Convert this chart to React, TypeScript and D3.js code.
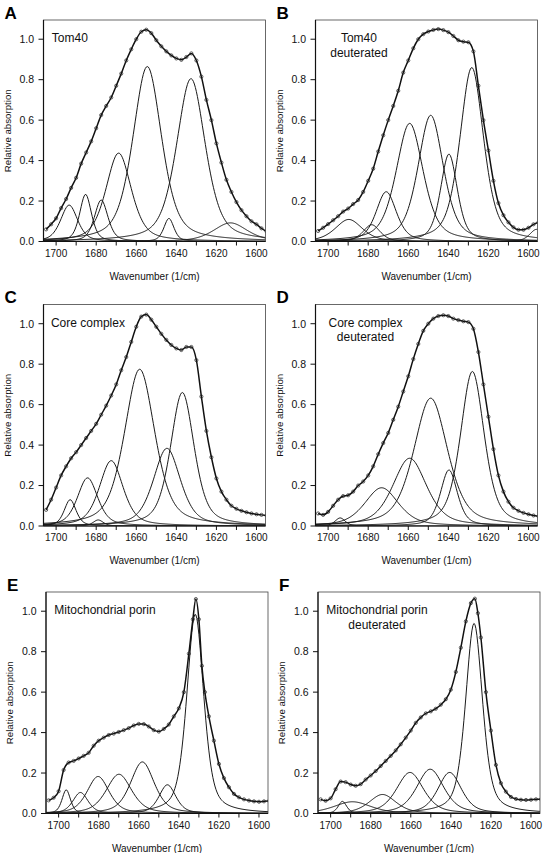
import React from 'react';
import * as d3 from 'd3';

// ---------- axes ----------
const X_DOMAIN: [number, number] = [1706.3, 1595.5];
const Y_MAX = 1.095;
const xMinorTicks = [1700, 1690, 1680, 1670, 1660, 1650, 1640, 1630, 1620, 1610, 1600];
const xTickLabels = [1700, 1680, 1660, 1640, 1620, 1600];
const yTickLabels = [0, 0.2, 0.4, 0.6, 0.8, 1.0];
const MIX = 0.5; // Lorentzian fraction of the fitted band shape

// ---------- measured spectra: [wavenumber, relative absorption] ----------
const tomSpectrum = [[1705,0.060],[1702.5,0.085],[1700,0.115],[1697.5,0.165],[1695,0.210],[1692.5,0.265],[1690,0.315],[1687.5,0.385],[1685,0.440],[1682.5,0.495],[1680,0.560],[1677.5,0.625],[1675,0.670],[1672.5,0.712],[1670,0.770],[1667.5,0.830],[1665,0.895],[1662.5,0.950],[1660,1.000],[1657.5,1.037],[1655,1.047],[1652.5,1.030],[1650,0.995],[1647.5,0.965],[1645,0.940],[1642.5,0.920],[1640,0.905],[1637.5,0.898],[1635,0.912],[1632.5,0.930],[1630,0.895],[1627.5,0.815],[1625,0.700],[1622.5,0.600],[1620,0.485],[1617.5,0.390],[1615,0.305],[1612.5,0.245],[1610,0.195],[1607.5,0.155],[1605,0.125],[1602.5,0.100],[1600,0.085],[1597.5,0.065],[1595,0.050]];
const tomDSpectrum = [[1705,0.052],[1702.5,0.068],[1700,0.086],[1697.5,0.105],[1695,0.125],[1692.5,0.148],[1690,0.163],[1687.5,0.185],[1685,0.205],[1682.5,0.245],[1680,0.300],[1677.5,0.360],[1675,0.445],[1672.5,0.525],[1670,0.600],[1667.5,0.670],[1665,0.745],[1662.5,0.835],[1660,0.895],[1657.5,0.955],[1655,1.000],[1652.5,1.025],[1650,1.038],[1647.5,1.046],[1645,1.050],[1642.5,1.045],[1640,1.035],[1637.5,1.016],[1635,0.995],[1632.5,0.988],[1630,0.985],[1627.5,0.940],[1625,0.770],[1622.5,0.600],[1620,0.450],[1617.5,0.300],[1615,0.190],[1612.5,0.130],[1610,0.095],[1607.5,0.070],[1605,0.058],[1602.5,0.058],[1600,0.068],[1597.5,0.085],[1595,0.095]];
const coreSpectrum = [[1705,0.080],[1702.5,0.130],[1700,0.190],[1697.5,0.250],[1695,0.295],[1692.5,0.335],[1690,0.365],[1687.5,0.400],[1685,0.435],[1682.5,0.470],[1680,0.505],[1677.5,0.550],[1675,0.595],[1672.5,0.645],[1670,0.700],[1667.5,0.770],[1665,0.835],[1662.5,0.910],[1660,0.985],[1657.5,1.035],[1655,1.045],[1652.5,1.020],[1650,0.985],[1647.5,0.950],[1645,0.920],[1642.5,0.895],[1640,0.878],[1637.5,0.870],[1635,0.885],[1632.5,0.885],[1630,0.820],[1627.5,0.640],[1625,0.470],[1622.5,0.340],[1620,0.235],[1617.5,0.170],[1615,0.130],[1612.5,0.100],[1610,0.085],[1607.5,0.075],[1605,0.068],[1602.5,0.062],[1600,0.058],[1597.5,0.055],[1595,0.052]];
const coreDSpectrum = [[1705,0.062],[1702.5,0.055],[1700,0.070],[1697.5,0.100],[1695,0.130],[1692.5,0.148],[1690,0.152],[1687.5,0.170],[1685,0.200],[1682.5,0.220],[1680,0.250],[1677.5,0.295],[1675,0.355],[1672.5,0.410],[1670,0.460],[1667.5,0.525],[1665,0.590],[1662.5,0.665],[1660,0.740],[1657.5,0.825],[1655,0.900],[1652.5,0.965],[1650,1.000],[1647.5,1.025],[1645,1.038],[1642.5,1.042],[1640,1.038],[1637.5,1.025],[1635,1.018],[1632.5,1.012],[1630,1.008],[1627.5,0.975],[1625,0.860],[1622.5,0.700],[1620,0.540],[1617.5,0.380],[1615,0.250],[1612.5,0.170],[1610,0.120],[1607.5,0.090],[1605,0.075],[1602.5,0.065],[1600,0.058],[1597.5,0.052],[1595,0.048]];
const porSpectrum = [[1705,0.065],[1702.5,0.078],[1700,0.110],[1697.5,0.215],[1695,0.252],[1692.5,0.260],[1690,0.272],[1687.5,0.285],[1685,0.300],[1682.5,0.335],[1680,0.360],[1677.5,0.375],[1675,0.388],[1672.5,0.395],[1670,0.403],[1667.5,0.412],[1665,0.422],[1662.5,0.435],[1660,0.443],[1657.5,0.442],[1655,0.430],[1652.5,0.412],[1650,0.405],[1647.5,0.418],[1645,0.440],[1642.5,0.480],[1640,0.520],[1637.5,0.600],[1635,0.790],[1633,0.960],[1631.5,1.060],[1630,0.960],[1628.5,0.730],[1627,0.600],[1625,0.480],[1622.5,0.360],[1620,0.245],[1617.5,0.175],[1615,0.130],[1612.5,0.097],[1610,0.080],[1607.5,0.070],[1605,0.064],[1602.5,0.060],[1600,0.058],[1597.5,0.060],[1595,0.062]];
const porDSpectrum = [[1705,0.070],[1702.5,0.063],[1700,0.075],[1697.5,0.120],[1695,0.158],[1692.5,0.155],[1690,0.143],[1687.5,0.137],[1685,0.145],[1682.5,0.168],[1680,0.188],[1677.5,0.210],[1675,0.235],[1672.5,0.260],[1670,0.285],[1667.5,0.312],[1665,0.342],[1662.5,0.375],[1660,0.410],[1657.5,0.448],[1655,0.475],[1652.5,0.495],[1650,0.505],[1647.5,0.518],[1645,0.538],[1642.5,0.565],[1640,0.612],[1637.5,0.700],[1635,0.820],[1632.5,0.950],[1630,1.040],[1628,1.062],[1626.5,0.990],[1625,0.870],[1622.5,0.600],[1620,0.410],[1617.5,0.240],[1615,0.150],[1612.5,0.108],[1610,0.082],[1607.5,0.072],[1605,0.068],[1602.5,0.067],[1600,0.068],[1597.5,0.070],[1595,0.070]];

// ---------- fitted bands: center, height, FWHM ----------
const tomCenters = [1693.5, 1685.3, 1677.5, 1668.8, 1654.5, 1643.7, 1632.7, 1613];
const tomHeights = [0.18, 0.233, 0.205, 0.437, 0.865, 0.114, 0.805, 0.092];
const tomWidths = [10, 7, 8, 15, 17, 6, 17, 20];

const tomDCenters = [1689.7, 1678.3, 1671, 1659.3, 1648.8, 1639.7, 1628.3, 1596];
const tomDHeights = [0.109, 0.083, 0.246, 0.584, 0.624, 0.432, 0.86, 0.06];
const tomDWidths = [16, 10, 12, 16, 15, 10, 14, 8];

const coreCenters = [1693, 1684.3, 1679, 1672.5, 1658.3, 1644.7, 1637];
const coreHeights = [0.13, 0.238, 0.03, 0.323, 0.775, 0.384, 0.66];
const coreWidths = [7, 12, 6, 14, 18, 16, 14];

const coreDCenters = [1694, 1673.3, 1659.3, 1648.8, 1639.7, 1628];
const coreDHeights = [0.04, 0.189, 0.335, 0.632, 0.277, 0.764];
const coreDWidths = [6, 20, 20, 20, 10, 14];

const porCenters = [1696.2, 1689.1, 1680.3, 1669.9, 1658.2, 1645.7, 1631.8];
const porHeights = [0.117, 0.104, 0.183, 0.194, 0.255, 0.142, 0.985];
const porWidths = [5, 9, 13, 15, 14, 10, 10];

const porDCenters = [1694.1, 1689.1, 1674.1, 1660.4, 1650.3, 1640.6, 1628.4];
const porDHeights = [0.06, 0.058, 0.094, 0.203, 0.219, 0.203, 0.94];
const porDWidths = [5, 22, 16, 16, 16, 14, 10];

const FONT = "'Liberation Sans', Arial, Helvetica, sans-serif";

type PanelDef = {
  letter: string; title: string[]; titleDx: number; centered: boolean; col: number; row: number;
  centers: number[]; heights: number[]; widths: number[]; spectrum: number[][];
};

const panels: PanelDef[] = [
  { letter: 'A', title: ['Tom40'], titleDx: 8.3, centered: false, col: 0, row: 0, centers: tomCenters, heights: tomHeights, widths: tomWidths, spectrum: tomSpectrum },
  { letter: 'B', title: ['Tom40', 'deuterated'], titleDx: 43.4, centered: true, col: 1, row: 0, centers: tomDCenters, heights: tomDHeights, widths: tomDWidths, spectrum: tomDSpectrum },
  { letter: 'C', title: ['Core complex'], titleDx: 7.4, centered: false, col: 0, row: 1, centers: coreCenters, heights: coreHeights, widths: coreWidths, spectrum: coreSpectrum },
  { letter: 'D', title: ['Core complex', 'deuterated'], titleDx: 50, centered: true, col: 1, row: 1, centers: coreDCenters, heights: coreDHeights, widths: coreDWidths, spectrum: coreDSpectrum },
  { letter: 'E', title: ['Mitochondrial porin'], titleDx: 8.3, centered: false, col: 0, row: 2, centers: porCenters, heights: porHeights, widths: porWidths, spectrum: porSpectrum },
  { letter: 'F', title: ['Mitochondrial porin', 'deuterated'], titleDx: 59, centered: true, col: 1, row: 2, centers: porDCenters, heights: porDHeights, widths: porDWidths, spectrum: porDSpectrum },
];

const COL_LEFT = [43.5, 315.5];
const ROW_TOP = [20, 304.5, 592];
const ROW_SHIFT = [0, 0, 2.5];
const PW = 222;
const PH = 221.5;

function band(x: number, c: number, h: number, w: number) {
  const t = (x - c) / (w / 2);
  return h * (MIX / (1 + t * t) + (1 - MIX) * Math.exp(-Math.LN2 * t * t));
}

const fineX = d3.range(1706.5, 1595, -0.5);

function Panel({ p }: { p: PanelDef }) {
  const left = COL_LEFT[p.col] + ROW_SHIFT[p.row];
  const top = ROW_TOP[p.row];
  const right = left + PW;
  const bottom = top + PH;
  const x = d3.scaleLinear().domain(X_DOMAIN).range([left, right]);
  const y = d3.scaleLinear().domain([0, Y_MAX]).range([bottom, top]);
  const line = d3.line<number[]>().x(d => x(d[0])).y(d => y(d[1]));
  const smooth = d3.line<number[]>().x(d => x(d[0])).y(d => y(d[1])).curve(d3.curveMonotoneX);
  const comps = p.centers.map((c, i) => fineX.map(v => [v, band(v, c, p.heights[i], p.widths[i])]));
  const clipId = `clip-${p.letter}`;
  const cx = (left + right) / 2;
  const titleX = left + p.titleDx;
  return (
    <g>
      <defs>
        <clipPath id={clipId}>
          <rect x={left} y={top} width={PW} height={PH} />
        </clipPath>
      </defs>
      <g clipPath={`url(#${clipId})`}>
        {comps.map((c, i) => (
          <path key={i} d={line(c) || ''} fill="none" stroke="#1a1a1a" strokeWidth={1} />
        ))}
        <path d={smooth(p.spectrum) || ''} fill="none" stroke="#111" strokeWidth={1.5} />
        {p.spectrum.map((d, i) => (
          <circle key={i} cx={x(d[0])} cy={y(d[1])} r={1.6} fill="none" stroke="#222" strokeWidth={0.7} />
        ))}
      </g>
      <rect x={left} y={top} width={PW} height={PH} fill="none" stroke="#444" strokeWidth={0.8} />
      <line x1={left} x2={left} y1={top} y2={bottom} stroke="#111" strokeWidth={1.2} />
      <line x1={left} x2={right} y1={bottom} y2={bottom} stroke="#111" strokeWidth={1.2} />
      {yTickLabels.map(t => (
        <g key={t}>
          <line x1={left - 5} x2={left} y1={y(t)} y2={y(t)} stroke="#111" strokeWidth={1} />
          <text x={left - 9.5} y={y(t) + 3.8} textAnchor="end" fontSize={10.5} fontFamily={FONT} fill="#111">
            {t.toFixed(1)}
          </text>
        </g>
      ))}
      {xMinorTicks.map(t => (
        <line key={t} x1={x(t)} x2={x(t)} y1={bottom} y2={bottom + 4} stroke="#111" strokeWidth={1} />
      ))}
      {xTickLabels.map(t => (
        <text key={t} x={x(t)} y={bottom + 15} textAnchor="middle" fontSize={10} fontFamily={FONT} fill="#111">
          {t}
        </text>
      ))}
      <text x={cx} y={bottom + 38} textAnchor="middle" fontSize={10} fontFamily={FONT} fill="#111">
        {'Wavenumber  (1/cm)'}
      </text>
      <text transform={`translate(${left - 33}, ${(top + bottom) / 2}) rotate(-90)`} textAnchor="middle" fontSize={9.7} fontFamily={FONT} fill="#111">
        Relative absorption
      </text>
      {p.title.map((s, i) => (
        <text key={i} x={titleX} y={top + 22 + i * 14.5} textAnchor={p.centered ? 'middle' : 'start'} fontSize={12} fontFamily={FONT} fill="#111">
          {s}
        </text>
      ))}
      <text x={left - 39} y={top - 1.5} fontSize={17} fontWeight="bold" fontFamily={FONT} fill="#000">
        {p.letter}
      </text>
    </g>
  );
}

export default function App() {
  return (
    <svg width={544} height={853} style={{ position: 'absolute', left: 0, top: 0, background: '#fff' }}>
      <rect x={0} y={0} width={544} height={853} fill="#fff" />
      {panels.map(p => (
        <Panel key={p.letter} p={p} />
      ))}
    </svg>
  );
}
